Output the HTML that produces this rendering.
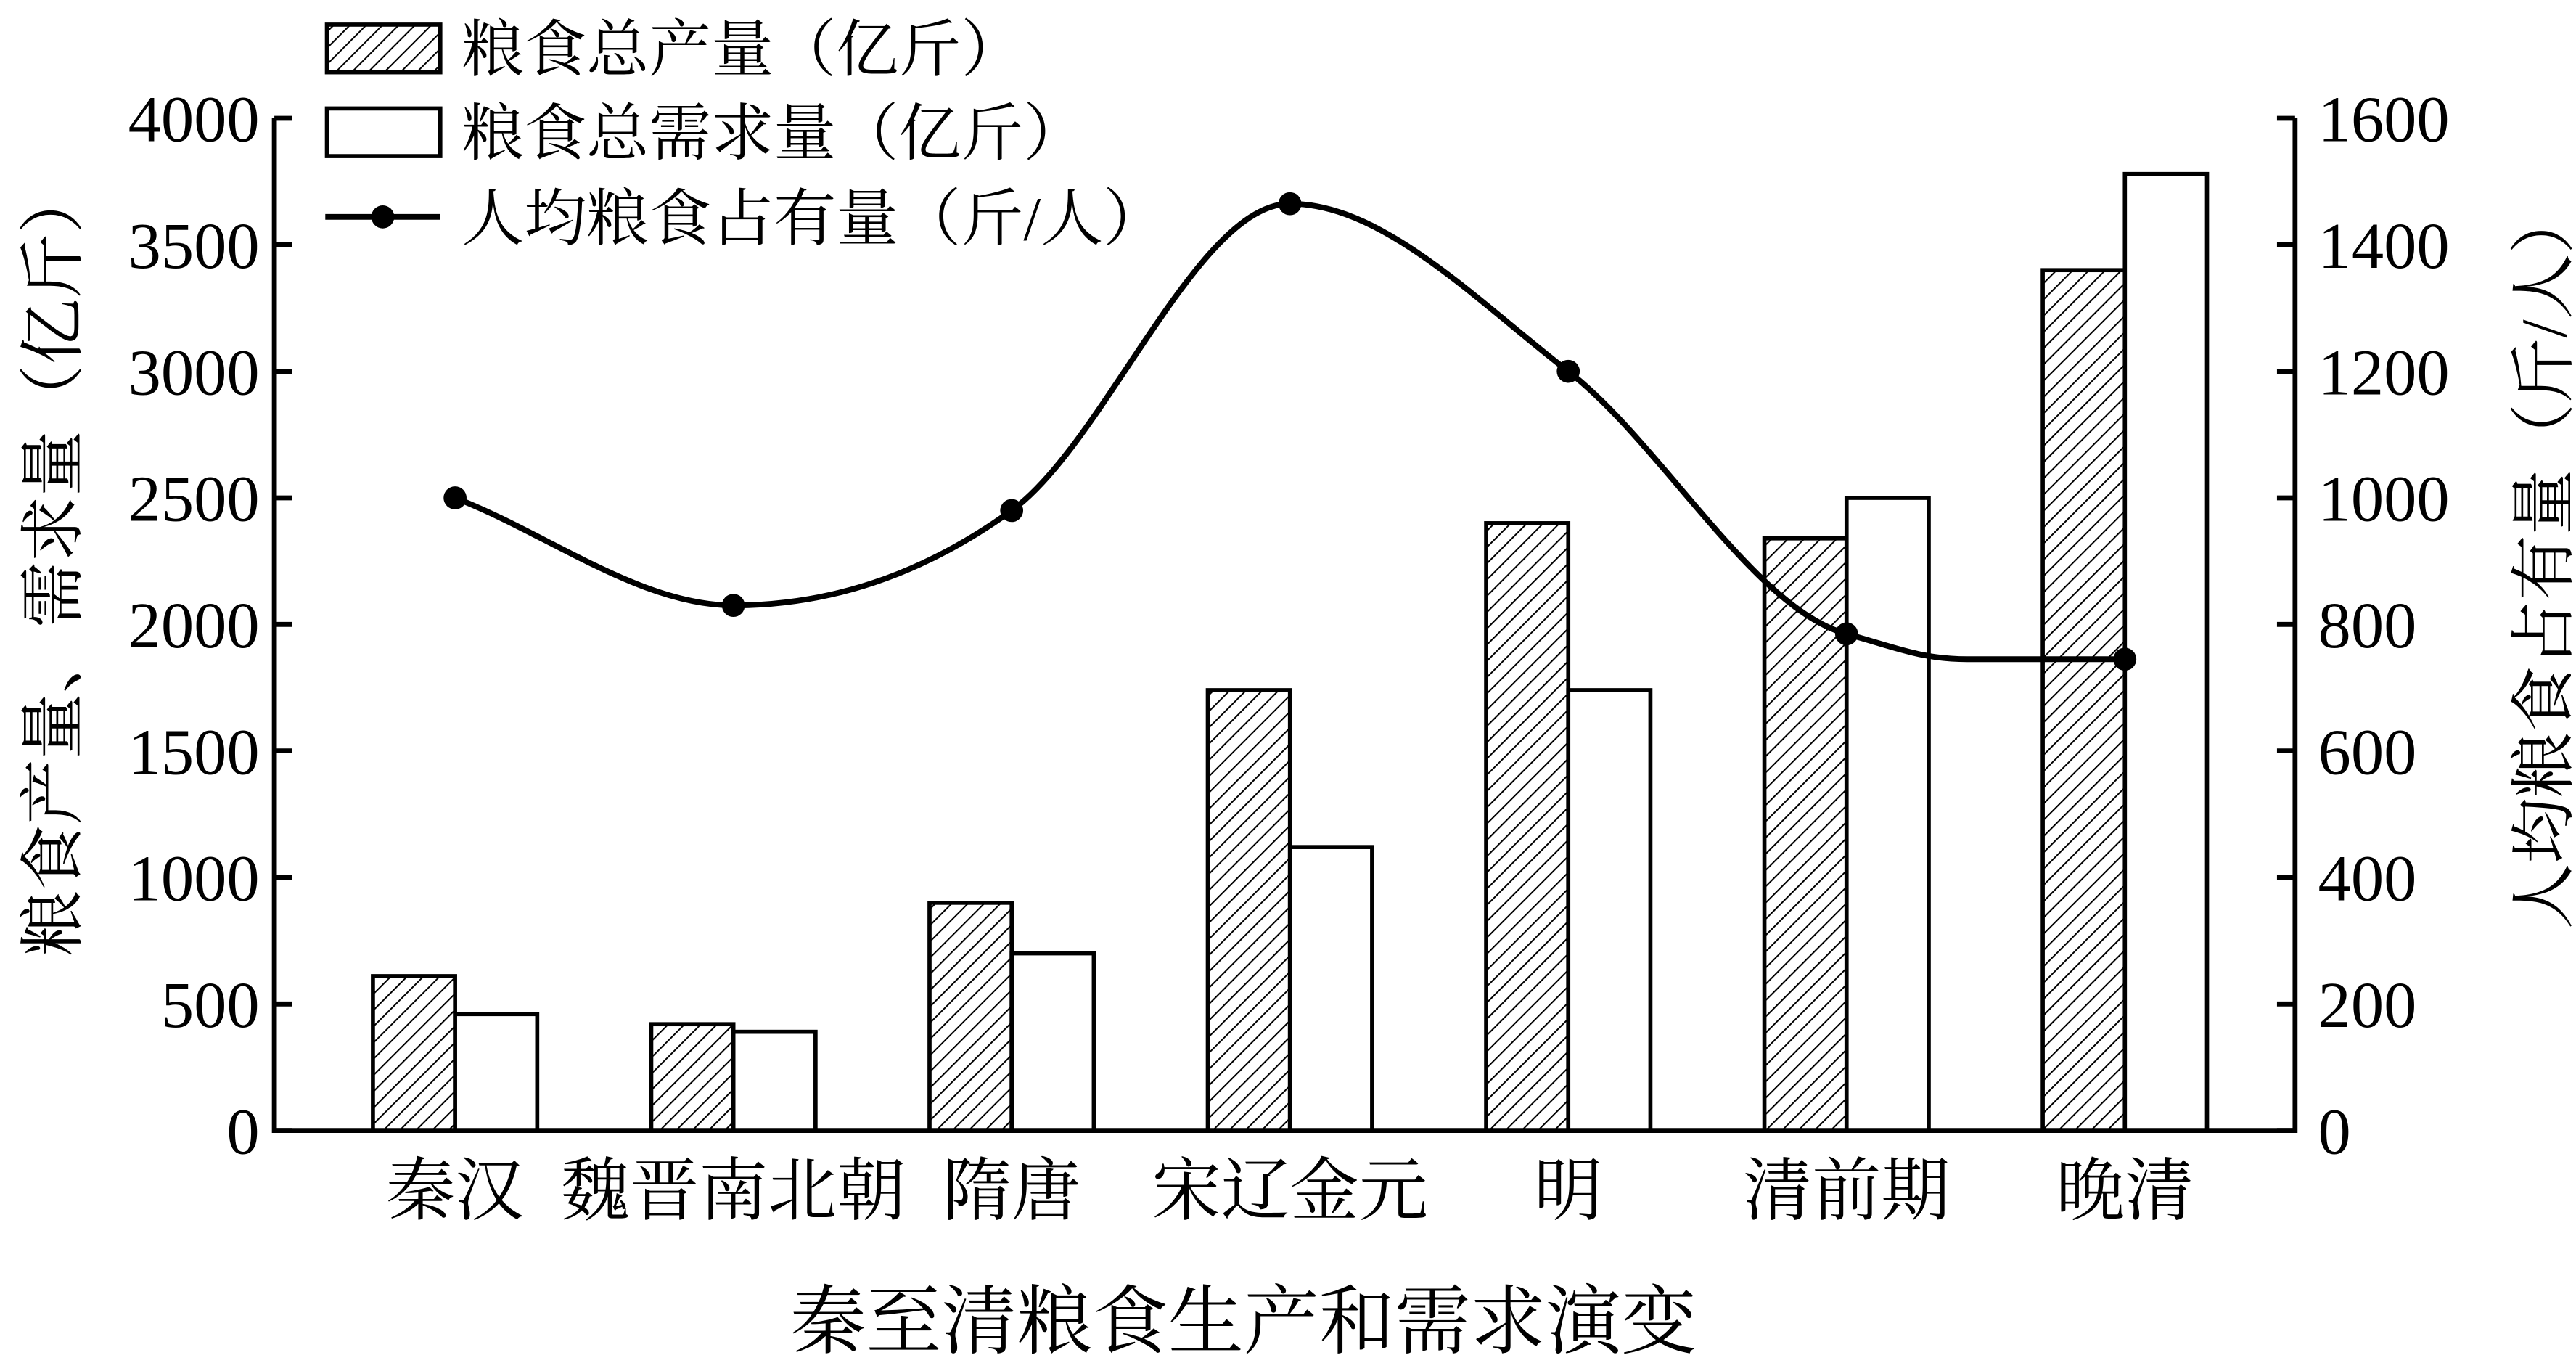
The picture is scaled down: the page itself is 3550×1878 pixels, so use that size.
<!DOCTYPE html>
<html><head><meta charset="utf-8"><style>
html,body{margin:0;padding:0;background:#fff;}
svg{display:block;}
text{fill:#000;}
.num{font-family:"Liberation Serif",serif;font-size:40px;}
.cjk{font-family:"Liberation Serif","Noto Serif CJK SC",serif;font-size:38px;}
.cat{font-family:"Liberation Serif","Noto Serif CJK SC",serif;font-size:42px;}
.ttl{font-family:"Liberation Serif","Noto Serif CJK SC",serif;font-size:40px;}
.xt{font-family:"Liberation Serif","Noto Serif CJK SC",serif;font-size:46px;}
</style></head><body>
<svg id="chart" width="3550" height="1878" viewBox="0 0 1568 829.5" preserveAspectRatio="none" xmlns="http://www.w3.org/2000/svg">
<defs>
<pattern id="hatch" patternUnits="userSpaceOnUse" width="7" height="7" patternTransform="rotate(45)">
<rect width="7" height="7" fill="#fff"/><line x1="0" y1="0" x2="0" y2="7" stroke="#000" stroke-width="1.8"/>
</pattern>
</defs>
<g id="plot"></g>
<g>
<rect x="199" y="15" width="69" height="29" fill="url(#hatch)" stroke="#000" stroke-width="2.5"/>
<text class="cjk" x="281" y="43">粮食总产量（亿斤）</text>
<rect x="199" y="66" width="69" height="29" fill="#fff" stroke="#000" stroke-width="2.5"/>
<text class="cjk" x="281" y="94">粮食总需求量（亿斤）</text>
<line x1="198" y1="132" x2="268" y2="132" stroke="#000" stroke-width="3.5"/>
<circle cx="233" cy="132" r="7" fill="#000"/>
<text class="cjk" x="281" y="146">人均粮食占有量（斤/人）</text>
</g>
<text class="ttl" transform="translate(46,342) rotate(-90)" text-anchor="middle">粮食产量、需求量（亿斤）</text>
<text class="ttl" transform="translate(1562,340) rotate(-90)" text-anchor="middle">人均粮食占有量（斤/人）</text>
<text class="xt" x="757" y="820" text-anchor="middle">秦至清粮食生产和需求演变</text>
</svg>
<script>
const categories = ["秦汉","魏晋南北朝","隋唐","宋辽金元","明","清前期","晚清"];
const production = [610,420,900,1740,2400,2340,3400];
const demand = [460,390,700,1120,1740,2500,3780];
const perCapita = [1000,830,980,1465,1200,785,745];
const leftTicks = [0,500,1000,1500,2000,2500,3000,3500,4000];
const rightTicks = [0,200,400,600,800,1000,1200,1400,1600];

const NS="http://www.w3.org/2000/svg";
const g=document.getElementById('plot');
const X0=167,X1=1397,Y0=688,Y1=72;
const yL=v=>Y0-(v/4000)*(Y0-Y1);
const yR=v=>Y0-(v/1600)*(Y0-Y1);
const xC=i=>277+i*169.4;
const BW=50;
function mk(t,a){const e=document.createElementNS(NS,t);for(const k in a)e.setAttribute(k,a[k]);g.appendChild(e);return e;}

production.forEach((v,i)=>{
 const r=mk('rect',{x:xC(i)-BW,y:yL(v),width:BW,height:Y0-yL(v),fill:'url(#hatch)',stroke:'#000','stroke-width':2.5});
 
 
});
demand.forEach((v,i)=>{
 const r=mk('rect',{x:xC(i),y:yL(v),width:BW,height:Y0-yL(v),fill:'#fff',stroke:'#000','stroke-width':2.5});
 
 
});

const px=perCapita.map((v,i)=>xC(i)), py=perCapita.map(v=>yR(v));
const n=px.length, d=[], m=[];
for(let i=0;i<n-1;i++)d.push((py[i+1]-py[i])/(px[i+1]-px[i]));
m[0]=d[0];m[n-1]=0;
for(let i=1;i<n-1;i++)m[i]=(d[i-1]*d[i]<=0)?0:(d[i-1]+d[i])/2;
for(let i=0;i<n-1;i++){if(d[i]===0){m[i]=m[i+1]=0;continue;}const a=m[i]/d[i],b=m[i+1]/d[i],s=a*a+b*b;if(s>9){const t=3/Math.sqrt(s);m[i]=t*a*d[i];m[i+1]=t*b*d[i];}}
let p='M'+px[0]+','+py[0];
for(let i=0;i<n-1;i++){
 const h=(px[i+1]-px[i])/3;
 if(i===n-2){
  const h1=h*0.5;
  p+=` C${px[i]+h1},${py[i]+m[i]*h1} ${px[i]+h*0.8},${py[i+1]} ${px[i]+h*1.3},${py[i+1]} L${px[i+1]},${py[i+1]}`;
 } else {
  p+=` C${px[i]+h},${py[i]+m[i]*h} ${px[i+1]-h},${py[i+1]-m[i+1]*h} ${px[i+1]},${py[i+1]}`;
 }
}
const ln=mk('path',{d:p,fill:'none',stroke:'#000','stroke-width':3.5});


perCapita.forEach((v,i)=>{
 const c=mk('circle',{cx:xC(i),cy:yR(v),r:7,fill:'#000'});
 
 
});

const ax=mk('path',{d:`M${X0},${Y1} L${X0},${Y0} L${X1},${Y0} L${X1},${Y1}`,fill:'none',stroke:'#000','stroke-width':3});


leftTicks.forEach(v=>{
 const t=mk('line',{x1:X0,x2:X0+11,y1:yL(v),y2:yL(v),stroke:'#000','stroke-width':3});
 
 
 const l=mk('text',{x:X0-9,y:yL(v)+14,'text-anchor':'end',class:'num'});
 l.textContent=v;
 
 
});
rightTicks.forEach(v=>{
 const t=mk('line',{x1:X1-11,x2:X1,y1:yR(v),y2:yR(v),stroke:'#000','stroke-width':3});
 
 
 const l=mk('text',{x:X1+14,y:yR(v)+14,'text-anchor':'start',class:'num'});
 l.textContent=v;
 
 
});
categories.forEach((c,i)=>{
 const l=mk('text',{x:xC(i),y:739,'text-anchor':'middle',class:'cat'});
 l.textContent=c;
 
 
});
</script>
</body></html>
